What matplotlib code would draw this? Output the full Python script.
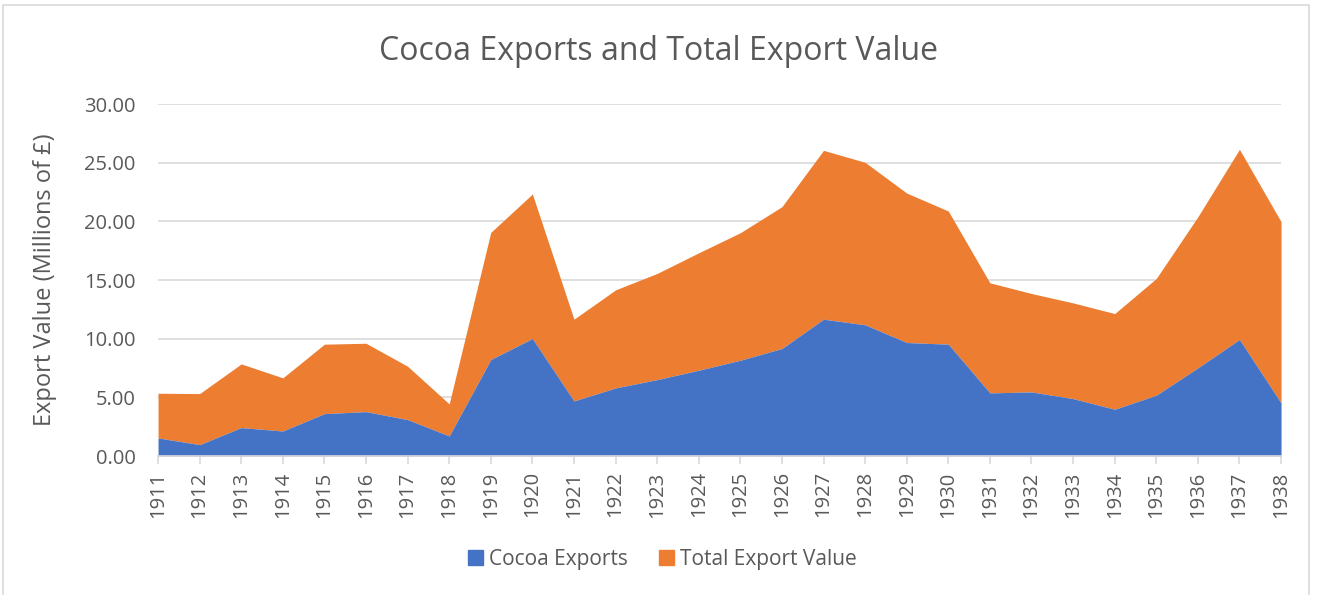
import matplotlib
matplotlib.use("Agg")
import matplotlib.pyplot as plt
from matplotlib.patches import Rectangle, Patch

years = list(range(1911, 1939))
cocoa = [1.54, 0.97, 2.42, 2.13, 3.61, 3.78, 3.10, 1.71, 8.22, 10.01,
         4.69, 5.80, 6.51, 7.31, 8.16, 9.16, 11.66, 11.18, 9.67, 9.53,
         5.38, 5.46, 4.89, 3.98, 5.18, 7.51, 9.93, 4.52]
total = [5.35, 5.32, 7.85, 6.66, 9.53, 9.61, 7.65, 4.44, 19.06, 22.33,
         11.66, 14.16, 15.56, 17.32, 19.03, 21.25, 26.05, 25.03, 22.41, 20.88,
         14.76, 13.85, 13.05, 12.14, 15.13, 20.39, 26.14, 19.97]
yticks = [0, 5, 10, 15, 20, 25, 30]

blue = "#4472C4"
orange = "#ED7D31"
grey = "#595959"
grid = "#D9D9D9"

plt.rcParams["font.family"] = ["Open Sans", "DejaVu Sans"]

fig = plt.figure(figsize=(13.17, 5.95), dpi=100)
ax = fig.add_axes([0.12, 0.2336, 0.8527, 0.5916])

# stacked look: cocoa at the bottom, total on top
ax.fill_between(years, 0, cocoa, color=blue, linewidth=0, zorder=3)
ax.fill_between(years, cocoa, total, color=orange, linewidth=0, zorder=2)

ax.set_xlim(years[0], years[-1])
ax.set_ylim(0, 30)
ax.set_yticks(yticks)
ax.set_yticklabels([f"{v:.2f}" for v in yticks])
ax.set_xticks(years)
ax.set_xticklabels([str(y) for y in years], rotation=90)
ax.yaxis.grid(True, color=grid, linewidth=1.2, zorder=0)
ax.set_axisbelow(True)

for s in ["top", "right", "left"]:
    ax.spines[s].set_visible(False)
ax.spines["bottom"].set_color(grid)
ax.spines["bottom"].set_linewidth(1.2)
ax.spines["bottom"].set_zorder(5)
ax.tick_params(axis="y", length=0, pad=16, labelsize=14.5, labelcolor=grey)
ax.tick_params(axis="x", length=6, width=1.2, color=grid, pad=5,
               labelsize=14.5, labelcolor=grey)

ax.set_ylabel("Export Value (Millions of £)", fontsize=17, color=grey)
ax.yaxis.set_label_coords(-0.09, 0.5)
fig.text(0.5, 0.914, "Cocoa Exports and Total Export Value", ha="center",
         va="center", fontsize=23, color=grey)

handles = [Patch(color=blue, label="Cocoa Exports"),
           Patch(color=orange, label="Total Export Value")]
fig.legend(handles=handles, loc="center", bbox_to_anchor=(0.503, 0.06), ncol=2,
           frameon=False, fontsize=15, labelcolor=grey, handlelength=0.7,
           handleheight=0.7, handletextpad=0.3, columnspacing=1.5)

# light chart-area border
fig.patches.append(Rectangle((3 / 1317, -0.01), 1306 / 1317, 1 - 5 / 595 + 0.01,
                             transform=fig.transFigure, fill=False,
                             edgecolor=grid, linewidth=1.2))

fig.savefig("out.png", dpi=100)
